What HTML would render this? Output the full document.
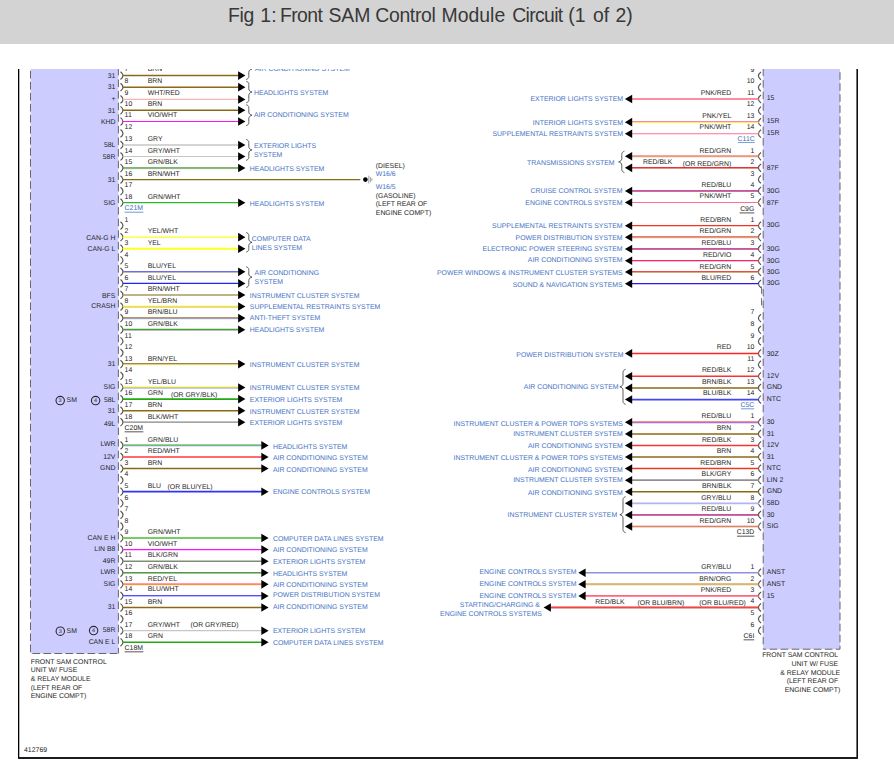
<!DOCTYPE html>
<html><head><meta charset="utf-8"><title>Fig 1: Front SAM Control Module Circuit (1 of 2)</title>
<style>
html,body{margin:0;padding:0;background:#fff;}
body{width:894px;height:775px;overflow:hidden;position:relative;font-family:"Liberation Sans",sans-serif;}
#hdr{position:absolute;left:0;top:0;width:894px;height:44px;background:#d3d3d3;}
#ttl{position:absolute;left:0;top:4.3px;font-size:19.4px;line-height:22px;color:#383838;white-space:nowrap;}
#ttl span{position:absolute;top:0;width:80px;text-align:center;}
svg{position:absolute;left:0;top:0;}
svg text{font-family:"Liberation Sans",sans-serif;text-rendering:geometricPrecision;}
</style></head><body>
<div id="hdr"></div><div id="ttl"><span style="left:201.05px;letter-spacing:-0.3px">Fig</span><span style="left:228.45px;letter-spacing:0px">1:</span><span style="left:261.17px;letter-spacing:-0.55px">Front</span><span style="left:309.45px;letter-spacing:0px">SAM</span><span style="left:365.38px;letter-spacing:-0.35px">Control</span><span style="left:433.40px;letter-spacing:0px">Module</span><span style="left:497.43px;letter-spacing:-0.65px">Circuit</span><span style="left:536.90px;letter-spacing:0px">(1</span><span style="left:561.00px;letter-spacing:0px">of</span><span style="left:584.00px;letter-spacing:0px">2)</span></div>
<svg width="894" height="775" viewBox="0 0 894 775">
<defs><clipPath id="cp"><rect x="0" y="69.0" width="894" height="706.0"/></clipPath></defs>
<g clip-path="url(#cp)">
<line x1="18.65" y1="67.00" x2="18.65" y2="758.85" stroke="#000" stroke-width="1.3"/>
<line x1="857.20" y1="67.00" x2="857.20" y2="758.85" stroke="#111" stroke-width="1.6"/>
<line x1="18.25" y1="757.95" x2="857.80" y2="757.95" stroke="#1c1c1c" stroke-width="1.9"/>
<rect x="30.5" y="64.0" width="87.90" height="589.50" fill="#ccccff"/>
<rect x="763.2" y="64.0" width="76.80" height="585.20" fill="#ccccff"/>
<path d="M30.5,62.5 L30.5,653.5 L118.4,653.5" fill="none" stroke="#606060" stroke-width="0.95" stroke-dasharray="7.6 3.43" stroke-dashoffset="2.68"/>
<path d="M118.4,62.5 L118.4,653.5" fill="none" stroke="#606060" stroke-width="0.95" stroke-dasharray="7.5 4.1" stroke-dashoffset="6.2"/>
<path d="M840.0,62.5 L840.0,649.2 L763.2,649.2" fill="none" stroke="#606060" stroke-width="0.95" stroke-dasharray="7.6 3.43" stroke-dashoffset="1.33"/>
<path d="M763.2,62.5 L763.2,649.2" fill="none" stroke="#606060" stroke-width="0.95" stroke-dasharray="7.5 4.1" stroke-dashoffset="5.6"/>
<path d="M120.50,71.70 Q125.50,75.60 120.50,79.50" fill="none" stroke="#555" stroke-width="1.2"/>
<text x="124.60" y="71.30" font-size="6.88" fill="#262626" text-anchor="start">7</text>
<text x="147.70" y="71.30" font-size="6.88" fill="#262626" text-anchor="start">BRN</text>
<text x="115.40" y="77.80" font-size="6.88" fill="#262626" text-anchor="end">31</text>
<line x1="122.80" y1="75.60" x2="238.70" y2="75.60" stroke="#8b6914" stroke-width="1.5"/>
<path d="M238.10,71.30 L245.40,75.60 L238.10,79.90 Z" fill="#000"/>
<path d="M120.50,83.25 Q125.50,87.16 120.50,91.06" fill="none" stroke="#555" stroke-width="1.2"/>
<text x="124.60" y="82.86" font-size="6.88" fill="#262626" text-anchor="start">8</text>
<text x="147.70" y="82.86" font-size="6.88" fill="#262626" text-anchor="start">BRN</text>
<text x="115.40" y="89.36" font-size="6.88" fill="#262626" text-anchor="end">31</text>
<line x1="122.80" y1="87.16" x2="238.70" y2="87.16" stroke="#8b6914" stroke-width="1.5"/>
<path d="M238.10,82.86 L245.40,87.16 L238.10,91.45 Z" fill="#000"/>
<path d="M120.50,95.50 Q125.50,99.40 120.50,103.30" fill="none" stroke="#555" stroke-width="1.2"/>
<text x="124.60" y="95.30" font-size="6.88" fill="#262626" text-anchor="start">9</text>
<text x="147.70" y="95.30" font-size="6.88" fill="#262626" text-anchor="start">WHT/RED</text>
<text x="115.40" y="100.50" font-size="6.88" fill="#262626" text-anchor="end">+</text>
<line x1="122.80" y1="99.40" x2="238.70" y2="99.40" stroke="#ffb0b0" stroke-width="1.3"/>
<path d="M238.10,95.10 L245.40,99.40 L238.10,103.70 Z" fill="#000"/>
<path d="M120.50,106.36 Q125.50,110.26 120.50,114.16" fill="none" stroke="#555" stroke-width="1.2"/>
<text x="124.60" y="105.96" font-size="6.88" fill="#262626" text-anchor="start">10</text>
<text x="147.70" y="105.96" font-size="6.88" fill="#262626" text-anchor="start">BRN</text>
<text x="115.40" y="113.46" font-size="6.88" fill="#262626" text-anchor="end">31</text>
<line x1="122.80" y1="110.26" x2="238.70" y2="110.26" stroke="#8b6914" stroke-width="1.5"/>
<path d="M238.10,105.96 L245.40,110.26 L238.10,114.56 Z" fill="#000"/>
<path d="M120.50,117.60 Q125.50,121.50 120.50,125.40" fill="none" stroke="#555" stroke-width="1.2"/>
<text x="124.60" y="117.20" font-size="6.88" fill="#262626" text-anchor="start">11</text>
<text x="147.70" y="117.20" font-size="6.88" fill="#262626" text-anchor="start">VIO/WHT</text>
<text x="115.40" y="123.70" font-size="6.88" fill="#262626" text-anchor="end">KHD</text>
<line x1="122.80" y1="121.50" x2="238.70" y2="121.50" stroke="#ff10ff" stroke-width="1.1"/>
<path d="M238.10,117.20 L245.40,121.50 L238.10,125.80 Z" fill="#000"/>
<path d="M120.50,129.47 Q125.50,133.38 120.50,137.28" fill="none" stroke="#555" stroke-width="1.2"/>
<text x="124.60" y="129.07" font-size="6.88" fill="#262626" text-anchor="start">12</text>
<path d="M120.50,141.03 Q125.50,144.93 120.50,148.83" fill="none" stroke="#555" stroke-width="1.2"/>
<text x="124.60" y="140.63" font-size="6.88" fill="#262626" text-anchor="start">13</text>
<text x="147.70" y="140.63" font-size="6.88" fill="#262626" text-anchor="start">GRY</text>
<text x="115.40" y="147.13" font-size="6.88" fill="#262626" text-anchor="end">58L</text>
<line x1="122.80" y1="144.93" x2="238.70" y2="144.93" stroke="#c6c6c6" stroke-width="1.5"/>
<path d="M238.10,140.63 L245.40,144.93 L238.10,149.23 Z" fill="#000"/>
<path d="M120.50,152.58 Q125.50,156.48 120.50,160.38" fill="none" stroke="#555" stroke-width="1.2"/>
<text x="124.60" y="152.88" font-size="6.88" fill="#262626" text-anchor="start">14</text>
<text x="147.70" y="152.88" font-size="6.88" fill="#262626" text-anchor="start">GRY/WHT</text>
<text x="115.40" y="158.68" font-size="6.88" fill="#262626" text-anchor="end">58R</text>
<line x1="122.80" y1="156.48" x2="238.70" y2="156.48" stroke="#c6c6c6" stroke-width="1.15"/>
<path d="M238.10,152.18 L245.40,156.48 L238.10,160.78 Z" fill="#000"/>
<path d="M120.50,164.14 Q125.50,168.04 120.50,171.94" fill="none" stroke="#555" stroke-width="1.2"/>
<text x="124.60" y="163.74" font-size="6.88" fill="#262626" text-anchor="start">15</text>
<text x="147.70" y="163.74" font-size="6.88" fill="#262626" text-anchor="start">GRN/BLK</text>
<line x1="122.80" y1="167.74" x2="238.70" y2="167.74" stroke="#44a833" stroke-width="1.2"/>
<line x1="122.80" y1="168.64" x2="238.70" y2="168.64" stroke="#6a7a5a" stroke-width="0.6"/>
<path d="M238.10,163.74 L245.40,168.04 L238.10,172.34 Z" fill="#000"/>
<path d="M120.50,175.69 Q125.50,179.59 120.50,183.50" fill="none" stroke="#555" stroke-width="1.2"/>
<text x="124.60" y="175.99" font-size="6.88" fill="#262626" text-anchor="start">16</text>
<text x="147.70" y="175.99" font-size="6.88" fill="#262626" text-anchor="start">BRN/WHT</text>
<text x="115.40" y="181.79" font-size="6.88" fill="#262626" text-anchor="end">31</text>
<path d="M120.50,187.25 Q125.50,191.15 120.50,195.05" fill="none" stroke="#555" stroke-width="1.2"/>
<text x="124.60" y="186.85" font-size="6.88" fill="#262626" text-anchor="start">17</text>
<path d="M120.50,198.80 Q125.50,202.70 120.50,206.60" fill="none" stroke="#555" stroke-width="1.2"/>
<text x="124.60" y="199.10" font-size="6.88" fill="#262626" text-anchor="start">18</text>
<text x="147.70" y="199.10" font-size="6.88" fill="#262626" text-anchor="start">GRN/WHT</text>
<text x="115.40" y="204.90" font-size="6.88" fill="#262626" text-anchor="end">SIG</text>
<line x1="122.80" y1="202.70" x2="238.70" y2="202.70" stroke="#2db52d" stroke-width="1.3"/>
<path d="M238.10,198.40 L245.40,202.70 L238.10,207.00 Z" fill="#000"/>
<line x1="122.80" y1="179.59" x2="360.30" y2="179.59" stroke="#8b6914" stroke-width="1.2"/>
<circle cx="365.4" cy="179.59" r="2.3" fill="#000"/>
<line x1="368.80" y1="175.69" x2="368.80" y2="183.50" stroke="#999" stroke-width="0.9"/>
<line x1="370.40" y1="177.00" x2="370.40" y2="182.19" stroke="#999" stroke-width="0.9"/>
<line x1="371.90" y1="178.29" x2="371.90" y2="180.90" stroke="#999" stroke-width="0.9"/>
<text x="375.80" y="167.90" font-size="6.88" fill="#262626" text-anchor="start">(DIESEL)</text>
<text x="375.80" y="175.80" font-size="6.88" fill="#4472c4" text-anchor="start">W16/6</text>
<text x="375.80" y="188.90" font-size="6.88" fill="#4472c4" text-anchor="start">W16/5</text>
<text x="375.80" y="197.50" font-size="6.88" fill="#262626" text-anchor="start">(GASOLINE)</text>
<text x="375.80" y="206.00" font-size="6.88" fill="#262626" text-anchor="start">(LEFT REAR OF</text>
<text x="375.80" y="214.70" font-size="6.88" fill="#262626" text-anchor="start">ENGINE COMPT)</text>
<path d="M246.20,58.54 C249.20,59.54 248.80,61.54 248.80,63.04 L248.80,65.82 C248.80,67.52 250.20,68.62 252.00,69.02 C250.20,69.42 248.80,70.52 248.80,72.22 L248.80,75.00 C248.80,76.50 249.20,78.50 246.20,79.50" fill="none" stroke="#333" stroke-width="0.8"/>
<text x="255.00" y="70.92" font-size="6.92" fill="#4472c4" text-anchor="start">AIR CONDITIONING SYSTEM</text>
<path d="M246.20,81.20 C249.20,82.20 248.80,84.20 248.80,85.70 L248.80,88.85 C248.80,90.55 250.20,91.65 252.00,92.05 C250.20,92.45 248.80,93.55 248.80,95.25 L248.80,98.40 C248.80,99.90 249.20,101.90 246.20,102.90" fill="none" stroke="#333" stroke-width="0.8"/>
<text x="253.90" y="95.08" font-size="6.92" fill="#4472c4" text-anchor="start">HEADLIGHTS SYSTEM</text>
<path d="M246.20,104.71 C249.20,105.71 248.80,107.71 248.80,109.21 L248.80,112.01 C248.80,113.71 250.20,114.81 252.00,115.21 C250.20,115.61 248.80,116.71 248.80,118.41 L248.80,121.20 C248.80,122.70 249.20,124.70 246.20,125.70" fill="none" stroke="#333" stroke-width="0.8"/>
<text x="253.90" y="117.28" font-size="6.92" fill="#4472c4" text-anchor="start">AIR CONDITIONING SYSTEM</text>
<path d="M246.20,139.43 C249.20,140.43 248.80,142.43 248.80,143.93 L248.80,146.71 C248.80,148.41 250.20,149.51 252.00,149.91 C250.20,150.31 248.80,151.41 248.80,153.11 L248.80,155.88 C248.80,157.38 249.20,159.38 246.20,160.38" fill="none" stroke="#333" stroke-width="0.8"/>
<text x="253.90" y="148.30" font-size="6.92" fill="#4472c4" text-anchor="start">EXTERIOR LIGHTS</text>
<text x="253.90" y="157.40" font-size="6.92" fill="#4472c4" text-anchor="start">SYSTEM</text>
<text x="249.80" y="171.44" font-size="6.92" fill="#4472c4" text-anchor="start">HEADLIGHTS SYSTEM</text>
<text x="249.80" y="205.70" font-size="6.92" fill="#4472c4" text-anchor="start">HEADLIGHTS SYSTEM</text>
<text x="124.60" y="210.30" font-size="6.88" fill="#3d6fb6" text-anchor="start">C21M</text>
<line x1="124.60" y1="212.20" x2="143.40" y2="212.20" stroke="#7fa3d6" stroke-width="1.1"/>
<path d="M120.50,221.70 Q125.50,225.60 120.50,229.50" fill="none" stroke="#555" stroke-width="1.2"/>
<text x="124.60" y="222.30" font-size="6.88" fill="#262626" text-anchor="start">1</text>
<path d="M120.50,233.26 Q125.50,237.16 120.50,241.06" fill="none" stroke="#555" stroke-width="1.2"/>
<text x="124.60" y="232.86" font-size="6.88" fill="#262626" text-anchor="start">2</text>
<text x="147.70" y="232.86" font-size="6.88" fill="#262626" text-anchor="start">YEL/WHT</text>
<text x="115.40" y="240.16" font-size="6.88" fill="#262626" text-anchor="end">CAN-G H</text>
<line x1="122.80" y1="237.16" x2="238.70" y2="237.16" stroke="#ffff40" stroke-width="1.5"/>
<path d="M238.10,232.86 L245.40,237.16 L238.10,241.47 Z" fill="#000"/>
<path d="M120.50,244.83 Q125.50,248.73 120.50,252.63" fill="none" stroke="#555" stroke-width="1.2"/>
<text x="124.60" y="245.23" font-size="6.88" fill="#262626" text-anchor="start">3</text>
<text x="147.70" y="245.23" font-size="6.88" fill="#262626" text-anchor="start">YEL</text>
<text x="115.40" y="250.93" font-size="6.88" fill="#262626" text-anchor="end">CAN-G L</text>
<line x1="122.80" y1="248.73" x2="238.70" y2="248.73" stroke="#ffff20" stroke-width="1.9"/>
<path d="M238.10,244.43 L245.40,248.73 L238.10,253.03 Z" fill="#000"/>
<path d="M120.50,256.40 Q125.50,260.30 120.50,264.19" fill="none" stroke="#555" stroke-width="1.2"/>
<text x="124.60" y="256.80" font-size="6.88" fill="#262626" text-anchor="start">4</text>
<path d="M120.50,267.96 Q125.50,271.86 120.50,275.76" fill="none" stroke="#555" stroke-width="1.2"/>
<text x="124.60" y="267.56" font-size="6.88" fill="#262626" text-anchor="start">5</text>
<text x="147.70" y="267.56" font-size="6.88" fill="#262626" text-anchor="start">BLU/YEL</text>
<line x1="122.80" y1="271.56" x2="238.70" y2="271.56" stroke="#6a6aff" stroke-width="1.2"/>
<line x1="122.80" y1="272.46" x2="238.70" y2="272.46" stroke="#b0a070" stroke-width="0.6"/>
<path d="M238.10,267.56 L245.40,271.86 L238.10,276.16 Z" fill="#000"/>
<path d="M120.50,279.53 Q125.50,283.43 120.50,287.32" fill="none" stroke="#555" stroke-width="1.2"/>
<text x="124.60" y="279.93" font-size="6.88" fill="#262626" text-anchor="start">6</text>
<text x="147.70" y="279.93" font-size="6.88" fill="#262626" text-anchor="start">BLU/YEL</text>
<line x1="122.80" y1="283.43" x2="238.70" y2="283.43" stroke="#2222ff" stroke-width="1.3"/>
<path d="M238.10,279.12 L245.40,283.43 L238.10,287.73 Z" fill="#000"/>
<path d="M120.50,291.09 Q125.50,294.99 120.50,298.89" fill="none" stroke="#555" stroke-width="1.2"/>
<text x="124.60" y="290.69" font-size="6.88" fill="#262626" text-anchor="start">7</text>
<text x="147.70" y="290.69" font-size="6.88" fill="#262626" text-anchor="start">BRN/WHT</text>
<text x="115.40" y="297.99" font-size="6.88" fill="#262626" text-anchor="end">BFS</text>
<line x1="122.80" y1="294.99" x2="238.70" y2="294.99" stroke="#a8985e" stroke-width="1.6"/>
<path d="M238.10,290.69 L245.40,294.99 L238.10,299.29 Z" fill="#000"/>
<path d="M120.50,302.66 Q125.50,306.56 120.50,310.45" fill="none" stroke="#555" stroke-width="1.2"/>
<text x="124.60" y="302.86" font-size="6.88" fill="#262626" text-anchor="start">8</text>
<text x="147.70" y="302.86" font-size="6.88" fill="#262626" text-anchor="start">YEL/BRN</text>
<text x="115.40" y="307.95" font-size="6.88" fill="#262626" text-anchor="end">CRASH</text>
<line x1="122.80" y1="306.31" x2="238.70" y2="306.31" stroke="#fcf418" stroke-width="1.35"/>
<line x1="122.80" y1="307.23" x2="238.70" y2="307.23" stroke="#a89038" stroke-width="0.5"/>
<path d="M238.10,302.25 L245.40,306.56 L238.10,310.86 Z" fill="#000"/>
<path d="M120.50,314.22 Q125.50,318.12 120.50,322.02" fill="none" stroke="#555" stroke-width="1.2"/>
<text x="124.60" y="313.82" font-size="6.88" fill="#262626" text-anchor="start">9</text>
<text x="147.70" y="313.82" font-size="6.88" fill="#262626" text-anchor="start">BRN/BLU</text>
<line x1="122.80" y1="317.80" x2="238.70" y2="317.80" stroke="#987a38" stroke-width="1.15"/>
<line x1="122.80" y1="318.69" x2="238.70" y2="318.69" stroke="#7c7cd4" stroke-width="0.65"/>
<path d="M238.10,313.82 L245.40,318.12 L238.10,322.42 Z" fill="#000"/>
<path d="M120.50,325.79 Q125.50,329.69 120.50,333.58" fill="none" stroke="#555" stroke-width="1.2"/>
<text x="124.60" y="326.19" font-size="6.88" fill="#262626" text-anchor="start">10</text>
<text x="147.70" y="326.19" font-size="6.88" fill="#262626" text-anchor="start">GRN/BLK</text>
<line x1="122.80" y1="329.39" x2="238.70" y2="329.39" stroke="#44a833" stroke-width="1.2"/>
<line x1="122.80" y1="330.29" x2="238.70" y2="330.29" stroke="#6a7a5a" stroke-width="0.6"/>
<path d="M238.10,325.38 L245.40,329.69 L238.10,333.99 Z" fill="#000"/>
<path d="M120.50,337.35 Q125.50,341.25 120.50,345.15" fill="none" stroke="#555" stroke-width="1.2"/>
<text x="124.60" y="337.95" font-size="6.88" fill="#262626" text-anchor="start">11</text>
<path d="M120.50,348.92 Q125.50,352.81 120.50,356.71" fill="none" stroke="#555" stroke-width="1.2"/>
<text x="124.60" y="348.51" font-size="6.88" fill="#262626" text-anchor="start">12</text>
<path d="M120.50,360.20 Q125.50,364.10 120.50,368.00" fill="none" stroke="#555" stroke-width="1.2"/>
<text x="124.60" y="360.80" font-size="6.88" fill="#262626" text-anchor="start">13</text>
<text x="147.70" y="360.80" font-size="6.88" fill="#262626" text-anchor="start">BRN/YEL</text>
<text x="115.40" y="366.30" font-size="6.88" fill="#262626" text-anchor="end">31</text>
<line x1="122.80" y1="363.78" x2="238.70" y2="363.78" stroke="#7a5a0c" stroke-width="1.15"/>
<line x1="122.80" y1="364.68" x2="238.70" y2="364.68" stroke="#e6d62c" stroke-width="0.65"/>
<path d="M238.10,359.80 L245.40,364.10 L238.10,368.40 Z" fill="#000"/>
<path d="M120.50,372.05 Q125.50,375.94 120.50,379.84" fill="none" stroke="#555" stroke-width="1.2"/>
<text x="124.60" y="371.64" font-size="6.88" fill="#262626" text-anchor="start">14</text>
<path d="M120.50,383.61 Q125.50,387.51 120.50,391.41" fill="none" stroke="#555" stroke-width="1.2"/>
<text x="124.60" y="384.01" font-size="6.88" fill="#262626" text-anchor="start">15</text>
<text x="147.70" y="384.01" font-size="6.88" fill="#262626" text-anchor="start">YEL/BLU</text>
<text x="115.40" y="388.51" font-size="6.88" fill="#262626" text-anchor="end">SIG</text>
<line x1="122.80" y1="387.16" x2="238.70" y2="387.16" stroke="#fff20c" stroke-width="1.15"/>
<line x1="122.80" y1="388.08" x2="238.70" y2="388.08" stroke="#6474f0" stroke-width="0.7"/>
<path d="M238.10,383.21 L245.40,387.51 L238.10,391.81 Z" fill="#000"/>
<path d="M120.50,395.18 Q125.50,399.07 120.50,402.97" fill="none" stroke="#555" stroke-width="1.2"/>
<text x="124.60" y="394.77" font-size="6.88" fill="#262626" text-anchor="start">16</text>
<text x="147.70" y="394.77" font-size="6.88" fill="#262626" text-anchor="start">GRN</text>
<text x="115.40" y="402.07" font-size="6.88" fill="#262626" text-anchor="end">58L</text>
<line x1="122.80" y1="399.07" x2="238.70" y2="399.07" stroke="#22aa11" stroke-width="1.7"/>
<path d="M238.10,394.77 L245.40,399.07 L238.10,403.38 Z" fill="#000"/>
<path d="M120.50,406.74 Q125.50,410.64 120.50,414.54" fill="none" stroke="#555" stroke-width="1.2"/>
<text x="124.60" y="407.14" font-size="6.88" fill="#262626" text-anchor="start">17</text>
<text x="147.70" y="407.14" font-size="6.88" fill="#262626" text-anchor="start">BRN</text>
<text x="115.40" y="412.84" font-size="6.88" fill="#262626" text-anchor="end">31</text>
<line x1="122.80" y1="410.64" x2="238.70" y2="410.64" stroke="#8b6914" stroke-width="1.5"/>
<path d="M238.10,406.34 L245.40,410.64 L238.10,414.94 Z" fill="#000"/>
<path d="M120.50,418.31 Q125.50,422.20 120.50,426.10" fill="none" stroke="#555" stroke-width="1.2"/>
<text x="124.60" y="418.70" font-size="6.88" fill="#262626" text-anchor="start">18</text>
<text x="147.70" y="418.70" font-size="6.88" fill="#262626" text-anchor="start">BLK/WHT</text>
<text x="115.40" y="425.80" font-size="6.88" fill="#262626" text-anchor="end">49L</text>
<line x1="122.80" y1="422.20" x2="238.70" y2="422.20" stroke="#868686" stroke-width="1.2"/>
<path d="M238.10,417.90 L245.40,422.20 L238.10,426.50 Z" fill="#000"/>
<text x="170.90" y="397.07" font-size="6.88" fill="#262626" text-anchor="start">(OR GRY/BLK)</text>
<path d="M246.20,232.47 C249.20,233.47 248.80,235.47 248.80,236.97 L248.80,239.10 C248.80,240.80 250.20,241.90 252.00,242.30 C250.20,242.70 248.80,243.80 248.80,245.50 L248.80,247.63 C248.80,249.13 249.20,251.13 246.20,252.13" fill="none" stroke="#333" stroke-width="0.8"/>
<text x="251.80" y="241.00" font-size="6.92" fill="#4472c4" text-anchor="start">COMPUTER DATA</text>
<text x="251.80" y="250.10" font-size="6.92" fill="#4472c4" text-anchor="start">LINES SYSTEM</text>
<path d="M246.20,266.76 C249.20,267.76 248.80,269.76 248.80,271.26 L248.80,273.94 C248.80,275.64 250.20,276.74 252.00,277.14 C250.20,277.54 248.80,278.64 248.80,280.34 L248.80,283.03 C248.80,284.53 249.20,286.53 246.20,287.53" fill="none" stroke="#333" stroke-width="0.8"/>
<text x="254.60" y="274.80" font-size="6.92" fill="#4472c4" text-anchor="start">AIR CONDITIONING</text>
<text x="254.60" y="284.00" font-size="6.92" fill="#4472c4" text-anchor="start">SYSTEM</text>
<text x="249.80" y="297.99" font-size="6.92" fill="#4472c4" text-anchor="start">INSTRUMENT CLUSTER SYSTEM</text>
<text x="249.80" y="308.95" font-size="6.92" fill="#4472c4" text-anchor="start">SUPPLEMENTAL RESTRAINTS SYSTEM</text>
<text x="249.80" y="319.92" font-size="6.92" fill="#4472c4" text-anchor="start">ANTI-THEFT SYSTEM</text>
<text x="249.80" y="331.69" font-size="6.92" fill="#4472c4" text-anchor="start">HEADLIGHTS SYSTEM</text>
<text x="249.80" y="366.50" font-size="6.92" fill="#4472c4" text-anchor="start">INSTRUMENT CLUSTER SYSTEM</text>
<text x="249.80" y="389.91" font-size="6.92" fill="#4472c4" text-anchor="start">INSTRUMENT CLUSTER SYSTEM</text>
<text x="249.80" y="402.47" font-size="6.92" fill="#4472c4" text-anchor="start">EXTERIOR LIGHTS SYSTEM</text>
<text x="249.80" y="413.54" font-size="6.92" fill="#4472c4" text-anchor="start">INSTRUMENT CLUSTER SYSTEM</text>
<text x="249.80" y="424.60" font-size="6.92" fill="#4472c4" text-anchor="start">EXTERIOR LIGHTS SYSTEM</text>
<text x="124.60" y="430.20" font-size="6.88" fill="#262626" text-anchor="start">C20M</text>
<line x1="124.60" y1="431.80" x2="143.40" y2="431.80" stroke="#666" stroke-width="1.1"/>
<circle cx="60.2" cy="400.6" r="4.2" fill="none" stroke="#2a2a3a" stroke-width="1.1"/>
<text x="60.10" y="402.10" font-size="5.5" fill="#262626" text-anchor="middle">3</text>
<text x="66.60" y="401.90" font-size="6.88" fill="#262626" text-anchor="start">SM</text>
<circle cx="95.6" cy="400.6" r="4.2" fill="none" stroke="#2a2a3a" stroke-width="1.1"/>
<text x="95.50" y="402.10" font-size="5.5" fill="#262626" text-anchor="middle">4</text>
<path d="M120.50,441.50 Q125.50,445.40 120.50,449.30" fill="none" stroke="#555" stroke-width="1.2"/>
<text x="124.60" y="441.90" font-size="6.88" fill="#262626" text-anchor="start">1</text>
<text x="147.70" y="441.90" font-size="6.88" fill="#262626" text-anchor="start">GRN/BLU</text>
<text x="115.40" y="446.20" font-size="6.88" fill="#262626" text-anchor="end">LWR</text>
<line x1="122.80" y1="445.10" x2="261.90" y2="445.10" stroke="#33aa22" stroke-width="1.2"/>
<line x1="122.80" y1="446.00" x2="261.90" y2="446.00" stroke="#9a9aff" stroke-width="0.6"/>
<path d="M261.30,441.10 L268.60,445.40 L261.30,449.70 Z" fill="#000"/>
<path d="M120.50,453.08 Q125.50,456.98 120.50,460.88" fill="none" stroke="#555" stroke-width="1.2"/>
<text x="124.60" y="452.68" font-size="6.88" fill="#262626" text-anchor="start">2</text>
<text x="147.70" y="452.68" font-size="6.88" fill="#262626" text-anchor="start">RED/WHT</text>
<text x="115.40" y="459.18" font-size="6.88" fill="#262626" text-anchor="end">12V</text>
<line x1="122.80" y1="456.98" x2="261.90" y2="456.98" stroke="#ff6a6a" stroke-width="1.9"/>
<path d="M261.30,452.68 L268.60,456.98 L261.30,461.28 Z" fill="#000"/>
<path d="M120.50,464.66 Q125.50,468.56 120.50,472.46" fill="none" stroke="#555" stroke-width="1.2"/>
<text x="124.60" y="465.26" font-size="6.88" fill="#262626" text-anchor="start">3</text>
<text x="147.70" y="465.26" font-size="6.88" fill="#262626" text-anchor="start">BRN</text>
<text x="115.40" y="469.76" font-size="6.88" fill="#262626" text-anchor="end">GND</text>
<line x1="122.80" y1="468.56" x2="261.90" y2="468.56" stroke="#8b6914" stroke-width="1.5"/>
<path d="M261.30,464.26 L268.60,468.56 L261.30,472.86 Z" fill="#000"/>
<path d="M120.50,476.24 Q125.50,480.14 120.50,484.04" fill="none" stroke="#555" stroke-width="1.2"/>
<text x="124.60" y="475.84" font-size="6.88" fill="#262626" text-anchor="start">4</text>
<path d="M120.50,487.82 Q125.50,491.72 120.50,495.62" fill="none" stroke="#555" stroke-width="1.2"/>
<text x="124.60" y="488.42" font-size="6.88" fill="#262626" text-anchor="start">5</text>
<text x="147.70" y="488.42" font-size="6.88" fill="#262626" text-anchor="start">BLU</text>
<line x1="122.80" y1="491.72" x2="261.90" y2="491.72" stroke="#3030ff" stroke-width="1.8"/>
<path d="M261.30,487.42 L268.60,491.72 L261.30,496.02 Z" fill="#000"/>
<path d="M120.50,499.40 Q125.50,503.30 120.50,507.20" fill="none" stroke="#555" stroke-width="1.2"/>
<text x="124.60" y="500.00" font-size="6.88" fill="#262626" text-anchor="start">6</text>
<path d="M120.50,510.98 Q125.50,514.88 120.50,518.78" fill="none" stroke="#555" stroke-width="1.2"/>
<text x="124.60" y="510.58" font-size="6.88" fill="#262626" text-anchor="start">7</text>
<path d="M120.50,522.56 Q125.50,526.46 120.50,530.36" fill="none" stroke="#555" stroke-width="1.2"/>
<text x="124.60" y="522.96" font-size="6.88" fill="#262626" text-anchor="start">8</text>
<path d="M120.50,534.14 Q125.50,538.04 120.50,541.94" fill="none" stroke="#555" stroke-width="1.2"/>
<text x="124.60" y="533.74" font-size="6.88" fill="#262626" text-anchor="start">9</text>
<text x="147.70" y="533.74" font-size="6.88" fill="#262626" text-anchor="start">GRN/WHT</text>
<text x="115.40" y="540.24" font-size="6.88" fill="#262626" text-anchor="end">CAN E H</text>
<line x1="122.80" y1="538.04" x2="261.90" y2="538.04" stroke="#77cc66" stroke-width="1.9"/>
<path d="M261.30,533.74 L268.60,538.04 L261.30,542.34 Z" fill="#000"/>
<path d="M120.50,545.72 Q125.50,549.62 120.50,553.52" fill="none" stroke="#555" stroke-width="1.2"/>
<text x="124.60" y="546.12" font-size="6.88" fill="#262626" text-anchor="start">10</text>
<text x="147.70" y="546.12" font-size="6.88" fill="#262626" text-anchor="start">VIO/WHT</text>
<text x="115.40" y="550.82" font-size="6.88" fill="#262626" text-anchor="end">LIN B8</text>
<line x1="122.80" y1="549.62" x2="261.90" y2="549.62" stroke="#ff10ff" stroke-width="1.1"/>
<path d="M261.30,545.32 L268.60,549.62 L261.30,553.92 Z" fill="#000"/>
<path d="M120.50,557.30 Q125.50,561.20 120.50,565.10" fill="none" stroke="#555" stroke-width="1.2"/>
<text x="124.60" y="556.90" font-size="6.88" fill="#262626" text-anchor="start">11</text>
<text x="147.70" y="556.90" font-size="6.88" fill="#262626" text-anchor="start">BLK/GRN</text>
<text x="115.40" y="563.40" font-size="6.88" fill="#262626" text-anchor="end">49R</text>
<line x1="122.80" y1="561.20" x2="261.90" y2="561.20" stroke="#7f8c78" stroke-width="1.6"/>
<path d="M261.30,556.90 L268.60,561.20 L261.30,565.50 Z" fill="#000"/>
<path d="M120.50,568.88 Q125.50,572.78 120.50,576.68" fill="none" stroke="#555" stroke-width="1.2"/>
<text x="124.60" y="569.48" font-size="6.88" fill="#262626" text-anchor="start">12</text>
<text x="147.70" y="569.48" font-size="6.88" fill="#262626" text-anchor="start">GRN/BLK</text>
<text x="115.40" y="573.78" font-size="6.88" fill="#262626" text-anchor="end">LWR</text>
<line x1="122.80" y1="572.48" x2="261.90" y2="572.48" stroke="#44a833" stroke-width="1.2"/>
<line x1="122.80" y1="573.38" x2="261.90" y2="573.38" stroke="#6a7a5a" stroke-width="0.6"/>
<path d="M261.30,568.48 L268.60,572.78 L261.30,577.08 Z" fill="#000"/>
<path d="M120.50,580.46 Q125.50,584.36 120.50,588.26" fill="none" stroke="#555" stroke-width="1.2"/>
<text x="124.60" y="580.86" font-size="6.88" fill="#262626" text-anchor="start">13</text>
<text x="147.70" y="580.86" font-size="6.88" fill="#262626" text-anchor="start">RED/YEL</text>
<text x="115.40" y="585.76" font-size="6.88" fill="#262626" text-anchor="end">SIG</text>
<line x1="122.80" y1="584.06" x2="261.90" y2="584.06" stroke="#ff4433" stroke-width="1.2"/>
<line x1="122.80" y1="584.96" x2="261.90" y2="584.96" stroke="#f0c040" stroke-width="0.6"/>
<path d="M261.30,580.06 L268.60,584.36 L261.30,588.66 Z" fill="#000"/>
<path d="M120.50,592.04 Q125.50,595.94 120.50,599.84" fill="none" stroke="#555" stroke-width="1.2"/>
<text x="124.60" y="590.84" font-size="6.88" fill="#262626" text-anchor="start">14</text>
<text x="147.70" y="590.84" font-size="6.88" fill="#262626" text-anchor="start">BLU/WHT</text>
<line x1="122.80" y1="595.64" x2="261.90" y2="595.64" stroke="#5050ff" stroke-width="1.2"/>
<line x1="122.80" y1="596.54" x2="261.90" y2="596.54" stroke="#b0b0ff" stroke-width="0.6"/>
<path d="M261.30,591.64 L268.60,595.94 L261.30,600.24 Z" fill="#000"/>
<path d="M120.50,603.62 Q125.50,607.52 120.50,611.42" fill="none" stroke="#555" stroke-width="1.2"/>
<text x="124.60" y="604.22" font-size="6.88" fill="#262626" text-anchor="start">15</text>
<text x="147.70" y="604.22" font-size="6.88" fill="#262626" text-anchor="start">BRN</text>
<text x="115.40" y="608.72" font-size="6.88" fill="#262626" text-anchor="end">31</text>
<line x1="122.80" y1="607.52" x2="261.90" y2="607.52" stroke="#8b6914" stroke-width="1.5"/>
<path d="M261.30,603.22 L268.60,607.52 L261.30,611.82 Z" fill="#000"/>
<path d="M120.50,615.20 Q125.50,619.10 120.50,623.00" fill="none" stroke="#555" stroke-width="1.2"/>
<text x="124.60" y="614.80" font-size="6.88" fill="#262626" text-anchor="start">16</text>
<path d="M120.50,626.78 Q125.50,630.68 120.50,634.58" fill="none" stroke="#555" stroke-width="1.2"/>
<text x="124.60" y="626.98" font-size="6.88" fill="#262626" text-anchor="start">17</text>
<text x="147.70" y="626.98" font-size="6.88" fill="#262626" text-anchor="start">GRY/WHT</text>
<text x="115.40" y="631.88" font-size="6.88" fill="#262626" text-anchor="end">58R</text>
<line x1="122.80" y1="630.68" x2="261.90" y2="630.68" stroke="#c6c6c6" stroke-width="1.15"/>
<path d="M261.30,626.38 L268.60,630.68 L261.30,634.98 Z" fill="#000"/>
<path d="M120.50,638.36 Q125.50,642.26 120.50,646.16" fill="none" stroke="#555" stroke-width="1.2"/>
<text x="124.60" y="637.96" font-size="6.88" fill="#262626" text-anchor="start">18</text>
<text x="147.70" y="637.96" font-size="6.88" fill="#262626" text-anchor="start">GRN</text>
<text x="115.40" y="644.46" font-size="6.88" fill="#262626" text-anchor="end">CAN E L</text>
<line x1="122.80" y1="642.26" x2="261.90" y2="642.26" stroke="#22aa11" stroke-width="1.7"/>
<path d="M261.30,637.96 L268.60,642.26 L261.30,646.56 Z" fill="#000"/>
<text x="167.50" y="488.52" font-size="6.88" fill="#262626" text-anchor="start">(OR BLU/YEL)</text>
<text x="190.50" y="627.08" font-size="6.88" fill="#262626" text-anchor="start">(OR GRY/RED)</text>
<text x="272.90" y="448.90" font-size="6.92" fill="#4472c4" text-anchor="start">HEADLIGHTS SYSTEM</text>
<text x="272.90" y="459.68" font-size="6.92" fill="#4472c4" text-anchor="start">AIR CONDITIONING SYSTEM</text>
<text x="272.90" y="472.26" font-size="6.92" fill="#4472c4" text-anchor="start">AIR CONDITIONING SYSTEM</text>
<text x="272.90" y="494.42" font-size="6.92" fill="#4472c4" text-anchor="start">ENGINE CONTROLS SYSTEM</text>
<text x="272.90" y="540.74" font-size="6.92" fill="#4472c4" text-anchor="start">COMPUTER DATA LINES SYSTEM</text>
<text x="272.90" y="552.32" font-size="6.92" fill="#4472c4" text-anchor="start">AIR CONDITIONING SYSTEM</text>
<text x="272.90" y="563.90" font-size="6.92" fill="#4472c4" text-anchor="start">EXTERIOR LIGHTS SYSTEM</text>
<text x="272.90" y="576.48" font-size="6.92" fill="#4472c4" text-anchor="start">HEADLIGHTS SYSTEM</text>
<text x="272.90" y="587.06" font-size="6.92" fill="#4472c4" text-anchor="start">AIR CONDITIONING SYSTEM</text>
<text x="272.90" y="597.14" font-size="6.92" fill="#4472c4" text-anchor="start">POWER DISTRIBUTION SYSTEM</text>
<text x="272.90" y="609.22" font-size="6.92" fill="#4472c4" text-anchor="start">AIR CONDITIONING SYSTEM</text>
<text x="272.90" y="633.38" font-size="6.92" fill="#4472c4" text-anchor="start">EXTERIOR LIGHTS SYSTEM</text>
<text x="272.90" y="644.96" font-size="6.92" fill="#4472c4" text-anchor="start">COMPUTER DATA LINES SYSTEM</text>
<text x="124.60" y="650.20" font-size="6.88" fill="#262626" text-anchor="start">C18M</text>
<line x1="124.60" y1="651.80" x2="143.40" y2="651.80" stroke="#666" stroke-width="1.1"/>
<circle cx="60.3" cy="631.2" r="4.2" fill="none" stroke="#2a2a3a" stroke-width="1.1"/>
<text x="60.20" y="632.70" font-size="5.5" fill="#262626" text-anchor="middle">3</text>
<text x="66.60" y="632.50" font-size="6.88" fill="#262626" text-anchor="start">SM</text>
<circle cx="93.6" cy="630.6" r="4.2" fill="none" stroke="#2a2a3a" stroke-width="1.1"/>
<text x="93.50" y="632.10" font-size="5.5" fill="#262626" text-anchor="middle">4</text>
<text x="30.70" y="663.80" font-size="6.9" fill="#262626" text-anchor="start">FRONT SAM CONTROL</text>
<text x="30.70" y="672.42" font-size="6.9" fill="#262626" text-anchor="start">UNIT W/ FUSE</text>
<text x="30.70" y="681.04" font-size="6.9" fill="#262626" text-anchor="start">&amp; RELAY MODULE</text>
<text x="30.70" y="689.66" font-size="6.9" fill="#262626" text-anchor="start">(LEFT REAR OF</text>
<text x="30.70" y="698.28" font-size="6.9" fill="#262626" text-anchor="start">ENGINE COMPT)</text>
<text x="24.00" y="751.90" font-size="6.95" fill="#262626" text-anchor="start">412769</text>
<path d="M761.00,71.94 Q755.80,75.84 761.00,79.74" fill="none" stroke="#555" stroke-width="1.2"/>
<text x="754.30" y="71.54" font-size="6.88" fill="#262626" text-anchor="end">9</text>
<path d="M761.00,83.52 Q755.80,87.42 761.00,91.32" fill="none" stroke="#555" stroke-width="1.2"/>
<text x="754.30" y="83.12" font-size="6.88" fill="#262626" text-anchor="end">10</text>
<path d="M761.00,95.10 Q755.80,99.00 761.00,102.90" fill="none" stroke="#555" stroke-width="1.2"/>
<text x="754.30" y="94.70" font-size="6.88" fill="#262626" text-anchor="end">11</text>
<text x="731.30" y="94.70" font-size="6.88" fill="#262626" text-anchor="end">PNK/RED</text>
<text x="766.80" y="100.00" font-size="6.88" fill="#262626" text-anchor="start">15</text>
<line x1="631.60" y1="99.00" x2="758.90" y2="99.00" stroke="#ff6680" stroke-width="1.6"/>
<path d="M632.20,94.70 L624.90,99.00 L632.20,103.30 Z" fill="#000"/>
<path d="M761.00,106.68 Q755.80,110.58 761.00,114.48" fill="none" stroke="#555" stroke-width="1.2"/>
<text x="754.30" y="106.28" font-size="6.88" fill="#262626" text-anchor="end">12</text>
<path d="M761.00,118.26 Q755.80,122.16 761.00,126.06" fill="none" stroke="#555" stroke-width="1.2"/>
<text x="754.30" y="117.86" font-size="6.88" fill="#262626" text-anchor="end">13</text>
<text x="731.30" y="117.86" font-size="6.88" fill="#262626" text-anchor="end">PNK/YEL</text>
<text x="766.80" y="123.16" font-size="6.88" fill="#262626" text-anchor="start">15R</text>
<line x1="631.60" y1="121.73" x2="758.90" y2="121.73" stroke="#ff5c7c" stroke-width="0.95"/>
<line x1="631.60" y1="122.63" x2="758.90" y2="122.63" stroke="#fff040" stroke-width="0.85"/>
<path d="M632.20,117.86 L624.90,122.16 L632.20,126.46 Z" fill="#000"/>
<path d="M761.00,129.84 Q755.80,133.74 761.00,137.64" fill="none" stroke="#555" stroke-width="1.2"/>
<text x="754.30" y="129.44" font-size="6.88" fill="#262626" text-anchor="end">14</text>
<text x="731.30" y="129.44" font-size="6.88" fill="#262626" text-anchor="end">PNK/WHT</text>
<text x="766.80" y="134.94" font-size="6.88" fill="#262626" text-anchor="start">15R</text>
<line x1="631.60" y1="133.74" x2="758.90" y2="133.74" stroke="#ff7090" stroke-width="1.2"/>
<path d="M632.20,129.44 L624.90,133.74 L632.20,138.04 Z" fill="#000"/>
<text x="623.00" y="100.90" font-size="6.92" fill="#4472c4" text-anchor="end">EXTERIOR LIGHTS SYSTEM</text>
<text x="623.00" y="124.86" font-size="6.92" fill="#4472c4" text-anchor="end">INTERIOR LIGHTS SYSTEM</text>
<text x="623.00" y="136.14" font-size="6.92" fill="#4472c4" text-anchor="end">SUPPLEMENTAL RESTRAINTS SYSTEM</text>
<text x="754.70" y="141.00" font-size="6.88" fill="#3d6fb6" text-anchor="end">C11C</text>
<line x1="737.80" y1="142.50" x2="754.70" y2="142.50" stroke="#7fa3d6" stroke-width="1.1"/>
<path d="M761.00,152.40 Q755.80,156.30 761.00,160.20" fill="none" stroke="#555" stroke-width="1.2"/>
<text x="754.30" y="152.80" font-size="6.88" fill="#262626" text-anchor="end">1</text>
<text x="731.30" y="152.80" font-size="6.88" fill="#262626" text-anchor="end">RED/GRN</text>
<line x1="631.60" y1="156.00" x2="758.90" y2="156.00" stroke="#f04a38" stroke-width="1.1"/>
<line x1="631.60" y1="156.85" x2="758.90" y2="156.85" stroke="#b89858" stroke-width="0.6"/>
<path d="M632.20,152.00 L624.90,156.30 L632.20,160.60 Z" fill="#000"/>
<path d="M761.00,163.95 Q755.80,167.85 761.00,171.75" fill="none" stroke="#555" stroke-width="1.2"/>
<text x="754.30" y="163.55" font-size="6.88" fill="#262626" text-anchor="end">2</text>
<text x="766.80" y="170.05" font-size="6.88" fill="#262626" text-anchor="start">87F</text>
<line x1="631.60" y1="167.55" x2="758.90" y2="167.55" stroke="#f03030" stroke-width="1.1"/>
<line x1="631.60" y1="168.40" x2="758.90" y2="168.40" stroke="#b83030" stroke-width="0.6"/>
<path d="M632.20,163.55 L624.90,167.85 L632.20,172.15 Z" fill="#000"/>
<path d="M761.00,175.50 Q755.80,179.40 761.00,183.30" fill="none" stroke="#555" stroke-width="1.2"/>
<text x="754.30" y="176.10" font-size="6.88" fill="#262626" text-anchor="end">3</text>
<path d="M761.00,187.05 Q755.80,190.95 761.00,194.85" fill="none" stroke="#555" stroke-width="1.2"/>
<text x="754.30" y="186.65" font-size="6.88" fill="#262626" text-anchor="end">4</text>
<text x="731.30" y="186.65" font-size="6.88" fill="#262626" text-anchor="end">RED/BLU</text>
<text x="766.80" y="193.15" font-size="6.88" fill="#262626" text-anchor="start">30G</text>
<line x1="631.60" y1="190.55" x2="758.90" y2="190.55" stroke="#ff2c3c" stroke-width="0.9"/>
<line x1="631.60" y1="191.40" x2="758.90" y2="191.40" stroke="#7048d0" stroke-width="0.8"/>
<path d="M632.20,186.65 L624.90,190.95 L632.20,195.25 Z" fill="#000"/>
<path d="M761.00,198.60 Q755.80,202.50 761.00,206.40" fill="none" stroke="#555" stroke-width="1.2"/>
<text x="754.30" y="198.20" font-size="6.88" fill="#262626" text-anchor="end">5</text>
<text x="731.30" y="198.20" font-size="6.88" fill="#262626" text-anchor="end">PNK/WHT</text>
<text x="766.80" y="204.70" font-size="6.88" fill="#262626" text-anchor="start">87F</text>
<line x1="631.60" y1="202.50" x2="758.90" y2="202.50" stroke="#ff7090" stroke-width="1.2"/>
<path d="M632.20,198.20 L624.90,202.50 L632.20,206.80 Z" fill="#000"/>
<text x="672.40" y="164.25" font-size="6.88" fill="#262626" text-anchor="end">RED/BLK</text>
<text x="731.30" y="165.65" font-size="6.88" fill="#262626" text-anchor="end">(OR RED/GRN)</text>
<path d="M624.40,151.20 C621.40,152.20 621.80,154.20 621.80,155.70 L621.80,158.68 C621.80,160.38 620.40,161.47 618.60,161.88 C620.40,162.28 621.80,163.38 621.80,165.07 L621.80,168.05 C621.80,169.55 621.40,171.55 624.40,172.55" fill="none" stroke="#333" stroke-width="0.8"/>
<text x="614.60" y="164.88" font-size="6.92" fill="#4472c4" text-anchor="end">TRANSMISSIONS SYSTEM</text>
<text x="622.40" y="192.95" font-size="6.92" fill="#4472c4" text-anchor="end">CRUISE CONTROL SYSTEM</text>
<text x="622.40" y="204.90" font-size="6.92" fill="#4472c4" text-anchor="end">ENGINE CONTROLS SYSTEM</text>
<text x="754.30" y="211.20" font-size="6.88" fill="#262626" text-anchor="end">C9G</text>
<line x1="739.60" y1="212.90" x2="754.30" y2="212.90" stroke="#666" stroke-width="1.1"/>
<path d="M761.00,221.80 Q755.80,225.70 761.00,229.60" fill="none" stroke="#555" stroke-width="1.2"/>
<text x="754.30" y="221.80" font-size="6.88" fill="#262626" text-anchor="end">1</text>
<text x="731.30" y="221.80" font-size="6.88" fill="#262626" text-anchor="end">RED/BRN</text>
<text x="766.80" y="226.70" font-size="6.88" fill="#262626" text-anchor="start">30G</text>
<line x1="631.60" y1="225.45" x2="758.90" y2="225.45" stroke="#ff2222" stroke-width="1.05"/>
<line x1="631.60" y1="226.22" x2="758.90" y2="226.22" stroke="#c88848" stroke-width="0.5"/>
<path d="M632.20,221.40 L624.90,225.70 L632.20,230.00 Z" fill="#000"/>
<path d="M761.00,233.32 Q755.80,237.22 761.00,241.12" fill="none" stroke="#555" stroke-width="1.2"/>
<text x="754.30" y="232.92" font-size="6.88" fill="#262626" text-anchor="end">2</text>
<text x="731.30" y="232.92" font-size="6.88" fill="#262626" text-anchor="end">RED/GRN</text>
<line x1="631.60" y1="236.92" x2="758.90" y2="236.92" stroke="#f04a38" stroke-width="1.1"/>
<line x1="631.60" y1="237.77" x2="758.90" y2="237.77" stroke="#b89858" stroke-width="0.6"/>
<path d="M632.20,232.92 L624.90,237.22 L632.20,241.52 Z" fill="#000"/>
<path d="M761.00,245.05 Q755.80,248.95 761.00,252.85" fill="none" stroke="#555" stroke-width="1.2"/>
<text x="754.30" y="245.35" font-size="6.88" fill="#262626" text-anchor="end">3</text>
<text x="731.30" y="245.35" font-size="6.88" fill="#262626" text-anchor="end">RED/BLU</text>
<text x="766.80" y="250.95" font-size="6.88" fill="#262626" text-anchor="start">30G</text>
<line x1="631.60" y1="248.55" x2="758.90" y2="248.55" stroke="#ff2c3c" stroke-width="0.9"/>
<line x1="631.60" y1="249.40" x2="758.90" y2="249.40" stroke="#7048d0" stroke-width="0.8"/>
<path d="M632.20,244.65 L624.90,248.95 L632.20,253.25 Z" fill="#000"/>
<path d="M761.00,256.85 Q755.80,260.75 761.00,264.65" fill="none" stroke="#555" stroke-width="1.2"/>
<text x="754.30" y="256.90" font-size="6.88" fill="#262626" text-anchor="end">4</text>
<text x="731.30" y="256.90" font-size="6.88" fill="#262626" text-anchor="end">RED/VIO</text>
<text x="766.80" y="262.50" font-size="6.88" fill="#262626" text-anchor="start">30G</text>
<line x1="631.60" y1="260.47" x2="758.90" y2="260.47" stroke="#ff2024" stroke-width="1.05"/>
<line x1="631.60" y1="261.27" x2="758.90" y2="261.27" stroke="#ff58f0" stroke-width="0.55"/>
<path d="M632.20,256.45 L624.90,260.75 L632.20,265.05 Z" fill="#000"/>
<path d="M761.00,268.05 Q755.80,271.95 761.00,275.85" fill="none" stroke="#555" stroke-width="1.2"/>
<text x="754.30" y="268.55" font-size="6.88" fill="#262626" text-anchor="end">5</text>
<text x="731.30" y="268.55" font-size="6.88" fill="#262626" text-anchor="end">RED/GRN</text>
<text x="766.80" y="273.75" font-size="6.88" fill="#262626" text-anchor="start">30G</text>
<line x1="631.60" y1="271.65" x2="758.90" y2="271.65" stroke="#f04a38" stroke-width="1.1"/>
<line x1="631.60" y1="272.50" x2="758.90" y2="272.50" stroke="#b89858" stroke-width="0.6"/>
<path d="M632.20,267.65 L624.90,271.95 L632.20,276.25 Z" fill="#000"/>
<path d="M761.00,279.90 Q755.80,283.80 761.00,287.70" fill="none" stroke="#555" stroke-width="1.2"/>
<text x="754.30" y="279.90" font-size="6.88" fill="#262626" text-anchor="end">6</text>
<text x="731.30" y="279.90" font-size="6.88" fill="#262626" text-anchor="end">BLU/RED</text>
<text x="766.80" y="285.10" font-size="6.88" fill="#262626" text-anchor="start">30G</text>
<line x1="631.60" y1="283.57" x2="758.90" y2="283.57" stroke="#1414ff" stroke-width="1.15"/>
<line x1="631.60" y1="284.38" x2="758.90" y2="284.38" stroke="#ffb4a8" stroke-width="0.45"/>
<path d="M632.20,279.50 L624.90,283.80 L632.20,288.10 Z" fill="#000"/>
<text x="622.60" y="228.10" font-size="6.92" fill="#4472c4" text-anchor="end">SUPPLEMENTAL RESTRAINTS SYSTEM</text>
<text x="622.60" y="239.62" font-size="6.92" fill="#4472c4" text-anchor="end">POWER DISTRIBUTION SYSTEM</text>
<text x="622.60" y="251.15" font-size="6.92" fill="#4472c4" text-anchor="end">ELECTRONIC POWER STEERING SYSTEM</text>
<text x="622.60" y="261.90" font-size="6.92" fill="#4472c4" text-anchor="end">AIR CONDITIONING SYSTEM</text>
<text x="622.60" y="274.95" font-size="6.92" fill="#4472c4" text-anchor="end">POWER WINDOWS &amp; INSTRUMENT CLUSTER SYSTEMS</text>
<text x="622.60" y="287.30" font-size="6.92" fill="#4472c4" text-anchor="end">SOUND &amp; NAVIGATION SYSTEMS</text>
<line x1="761.60" y1="286.60" x2="761.60" y2="305.40" stroke="#555" stroke-width="0.9" stroke-dasharray="7.2 4.4"/>
<path d="M761.00,314.30 Q755.80,318.20 761.00,322.10" fill="none" stroke="#555" stroke-width="1.2"/>
<text x="754.30" y="313.90" font-size="6.88" fill="#262626" text-anchor="end">7</text>
<path d="M761.00,325.92 Q755.80,329.82 761.00,333.72" fill="none" stroke="#555" stroke-width="1.2"/>
<text x="754.30" y="325.52" font-size="6.88" fill="#262626" text-anchor="end">8</text>
<path d="M761.00,337.54 Q755.80,341.44 761.00,345.34" fill="none" stroke="#555" stroke-width="1.2"/>
<text x="754.30" y="338.14" font-size="6.88" fill="#262626" text-anchor="end">9</text>
<path d="M761.00,349.50 Q755.80,353.40 761.00,357.30" fill="none" stroke="#555" stroke-width="1.2"/>
<text x="754.30" y="349.10" font-size="6.88" fill="#262626" text-anchor="end">10</text>
<text x="731.30" y="349.10" font-size="6.88" fill="#262626" text-anchor="end">RED</text>
<text x="766.80" y="355.60" font-size="6.88" fill="#262626" text-anchor="start">30Z</text>
<line x1="631.60" y1="353.40" x2="758.90" y2="353.40" stroke="#ff2222" stroke-width="1.5"/>
<path d="M632.20,349.10 L624.90,353.40 L632.20,357.70 Z" fill="#000"/>
<path d="M761.00,360.78 Q755.80,364.68 761.00,368.58" fill="none" stroke="#555" stroke-width="1.2"/>
<text x="754.30" y="361.38" font-size="6.88" fill="#262626" text-anchor="end">11</text>
<path d="M761.00,372.40 Q755.80,376.30 761.00,380.20" fill="none" stroke="#555" stroke-width="1.2"/>
<text x="754.30" y="372.00" font-size="6.88" fill="#262626" text-anchor="end">12</text>
<text x="731.30" y="372.00" font-size="6.88" fill="#262626" text-anchor="end">RED/BLK</text>
<text x="766.80" y="377.50" font-size="6.88" fill="#262626" text-anchor="start">12V</text>
<line x1="631.60" y1="376.30" x2="758.90" y2="376.30" stroke="#f83434" stroke-width="1.5"/>
<path d="M632.20,372.00 L624.90,376.30 L632.20,380.60 Z" fill="#000"/>
<path d="M761.00,384.02 Q755.80,387.92 761.00,391.82" fill="none" stroke="#555" stroke-width="1.2"/>
<text x="754.30" y="383.62" font-size="6.88" fill="#262626" text-anchor="end">13</text>
<text x="731.30" y="383.62" font-size="6.88" fill="#262626" text-anchor="end">BRN/BLK</text>
<text x="766.80" y="389.12" font-size="6.88" fill="#262626" text-anchor="start">GND</text>
<line x1="631.60" y1="387.92" x2="758.90" y2="387.92" stroke="#8b6914" stroke-width="1.5"/>
<path d="M632.20,383.62 L624.90,387.92 L632.20,392.22 Z" fill="#000"/>
<path d="M761.00,395.64 Q755.80,399.54 761.00,403.44" fill="none" stroke="#555" stroke-width="1.2"/>
<text x="754.30" y="395.24" font-size="6.88" fill="#262626" text-anchor="end">14</text>
<text x="731.30" y="395.24" font-size="6.88" fill="#262626" text-anchor="end">BLU/BLK</text>
<text x="766.80" y="400.74" font-size="6.88" fill="#262626" text-anchor="start">NTC</text>
<line x1="631.60" y1="399.54" x2="758.90" y2="399.54" stroke="#4444f4" stroke-width="1.8"/>
<path d="M632.20,395.24 L624.90,399.54 L632.20,403.84 Z" fill="#000"/>
<text x="623.40" y="356.50" font-size="6.92" fill="#4472c4" text-anchor="end">POWER DISTRIBUTION SYSTEM</text>
<path d="M625.60,369.30 C622.60,370.30 623.00,372.30 623.00,373.80 L623.00,383.62 C623.00,385.32 621.60,386.42 619.80,386.82 C621.60,387.22 623.00,388.32 623.00,390.02 L623.00,399.84 C623.00,401.34 622.60,403.34 625.60,404.34" fill="none" stroke="#333" stroke-width="0.8"/>
<text x="618.60" y="388.92" font-size="6.92" fill="#4472c4" text-anchor="end">AIR CONDITIONING SYSTEM</text>
<text x="754.30" y="407.20" font-size="6.88" fill="#3d6fb6" text-anchor="end">C5C</text>
<line x1="741.00" y1="408.80" x2="754.30" y2="408.80" stroke="#7fa3d6" stroke-width="1.1"/>
<path d="M761.00,418.40 Q755.80,422.30 761.00,426.20" fill="none" stroke="#555" stroke-width="1.2"/>
<text x="754.30" y="418.00" font-size="6.88" fill="#262626" text-anchor="end">1</text>
<text x="731.30" y="418.00" font-size="6.88" fill="#262626" text-anchor="end">RED/BLU</text>
<text x="766.80" y="423.50" font-size="6.88" fill="#262626" text-anchor="start">30</text>
<line x1="631.60" y1="421.90" x2="758.90" y2="421.90" stroke="#ff2c3c" stroke-width="0.9"/>
<line x1="631.60" y1="422.75" x2="758.90" y2="422.75" stroke="#7048d0" stroke-width="0.8"/>
<path d="M632.20,418.00 L624.90,422.30 L632.20,426.60 Z" fill="#000"/>
<path d="M761.00,429.98 Q755.80,433.88 761.00,437.78" fill="none" stroke="#555" stroke-width="1.2"/>
<text x="754.30" y="429.58" font-size="6.88" fill="#262626" text-anchor="end">2</text>
<text x="731.30" y="429.58" font-size="6.88" fill="#262626" text-anchor="end">BRN</text>
<text x="766.80" y="436.08" font-size="6.88" fill="#262626" text-anchor="start">31</text>
<line x1="631.60" y1="433.88" x2="758.90" y2="433.88" stroke="#8b6914" stroke-width="1.5"/>
<path d="M632.20,429.58 L624.90,433.88 L632.20,438.18 Z" fill="#000"/>
<path d="M761.00,441.56 Q755.80,445.46 761.00,449.36" fill="none" stroke="#555" stroke-width="1.2"/>
<text x="754.30" y="441.96" font-size="6.88" fill="#262626" text-anchor="end">3</text>
<text x="731.30" y="441.96" font-size="6.88" fill="#262626" text-anchor="end">RED/BLK</text>
<text x="766.80" y="446.86" font-size="6.88" fill="#262626" text-anchor="start">12V</text>
<line x1="631.60" y1="445.46" x2="758.90" y2="445.46" stroke="#f83434" stroke-width="1.5"/>
<path d="M632.20,441.16 L624.90,445.46 L632.20,449.76 Z" fill="#000"/>
<path d="M761.00,453.14 Q755.80,457.04 761.00,460.94" fill="none" stroke="#555" stroke-width="1.2"/>
<text x="754.30" y="452.74" font-size="6.88" fill="#262626" text-anchor="end">4</text>
<text x="731.30" y="452.74" font-size="6.88" fill="#262626" text-anchor="end">BRN</text>
<text x="766.80" y="459.24" font-size="6.88" fill="#262626" text-anchor="start">31</text>
<line x1="631.60" y1="457.04" x2="758.90" y2="457.04" stroke="#8b6914" stroke-width="1.5"/>
<path d="M632.20,452.74 L624.90,457.04 L632.20,461.34 Z" fill="#000"/>
<path d="M761.00,464.72 Q755.80,468.62 761.00,472.52" fill="none" stroke="#555" stroke-width="1.2"/>
<text x="754.30" y="465.32" font-size="6.88" fill="#262626" text-anchor="end">5</text>
<text x="731.30" y="465.32" font-size="6.88" fill="#262626" text-anchor="end">RED/BRN</text>
<text x="766.80" y="470.02" font-size="6.88" fill="#262626" text-anchor="start">NTC</text>
<line x1="631.60" y1="468.37" x2="758.90" y2="468.37" stroke="#ff2222" stroke-width="1.05"/>
<line x1="631.60" y1="469.15" x2="758.90" y2="469.15" stroke="#c88848" stroke-width="0.5"/>
<path d="M632.20,464.32 L624.90,468.62 L632.20,472.92 Z" fill="#000"/>
<path d="M761.00,476.30 Q755.80,480.20 761.00,484.10" fill="none" stroke="#555" stroke-width="1.2"/>
<text x="754.30" y="475.90" font-size="6.88" fill="#262626" text-anchor="end">6</text>
<text x="731.30" y="475.90" font-size="6.88" fill="#262626" text-anchor="end">BLK/GRY</text>
<text x="766.80" y="482.40" font-size="6.88" fill="#262626" text-anchor="start">LIN 2</text>
<line x1="631.60" y1="480.20" x2="758.90" y2="480.20" stroke="#909090" stroke-width="1.7"/>
<path d="M632.20,475.90 L624.90,480.20 L632.20,484.50 Z" fill="#000"/>
<path d="M761.00,487.88 Q755.80,491.78 761.00,495.68" fill="none" stroke="#555" stroke-width="1.2"/>
<text x="754.30" y="488.28" font-size="6.88" fill="#262626" text-anchor="end">7</text>
<text x="731.30" y="488.28" font-size="6.88" fill="#262626" text-anchor="end">BRN/BLK</text>
<text x="766.80" y="492.98" font-size="6.88" fill="#262626" text-anchor="start">GND</text>
<line x1="631.60" y1="491.78" x2="758.90" y2="491.78" stroke="#8b6914" stroke-width="1.5"/>
<path d="M632.20,487.48 L624.90,491.78 L632.20,496.08 Z" fill="#000"/>
<path d="M761.00,499.46 Q755.80,503.36 761.00,507.26" fill="none" stroke="#555" stroke-width="1.2"/>
<text x="754.30" y="500.06" font-size="6.88" fill="#262626" text-anchor="end">8</text>
<text x="731.30" y="500.06" font-size="6.88" fill="#262626" text-anchor="end">GRY/BLU</text>
<text x="766.80" y="504.56" font-size="6.88" fill="#262626" text-anchor="start">58D</text>
<line x1="631.60" y1="503.36" x2="758.90" y2="503.36" stroke="#b4b4ee" stroke-width="1.9"/>
<path d="M632.20,499.06 L624.90,503.36 L632.20,507.66 Z" fill="#000"/>
<path d="M761.00,511.04 Q755.80,514.94 761.00,518.84" fill="none" stroke="#555" stroke-width="1.2"/>
<text x="754.30" y="510.64" font-size="6.88" fill="#262626" text-anchor="end">9</text>
<text x="731.30" y="510.64" font-size="6.88" fill="#262626" text-anchor="end">RED/BLU</text>
<text x="766.80" y="517.14" font-size="6.88" fill="#262626" text-anchor="start">30</text>
<line x1="631.60" y1="514.54" x2="758.90" y2="514.54" stroke="#ff2c3c" stroke-width="0.9"/>
<line x1="631.60" y1="515.39" x2="758.90" y2="515.39" stroke="#7048d0" stroke-width="0.8"/>
<path d="M632.20,510.64 L624.90,514.94 L632.20,519.24 Z" fill="#000"/>
<path d="M761.00,522.62 Q755.80,526.52 761.00,530.42" fill="none" stroke="#555" stroke-width="1.2"/>
<text x="754.30" y="523.02" font-size="6.88" fill="#262626" text-anchor="end">10</text>
<text x="731.30" y="523.02" font-size="6.88" fill="#262626" text-anchor="end">RED/GRN</text>
<text x="766.80" y="527.92" font-size="6.88" fill="#262626" text-anchor="start">SIG</text>
<line x1="631.60" y1="526.22" x2="758.90" y2="526.22" stroke="#f04a38" stroke-width="1.1"/>
<line x1="631.60" y1="527.07" x2="758.90" y2="527.07" stroke="#b89858" stroke-width="0.6"/>
<path d="M632.20,522.22 L624.90,526.52 L632.20,530.82 Z" fill="#000"/>
<text x="622.80" y="425.80" font-size="6.92" fill="#4472c4" text-anchor="end">INSTRUMENT CLUSTER &amp; POWER TOPS SYSTEMS</text>
<text x="622.80" y="435.78" font-size="6.92" fill="#4472c4" text-anchor="end">INSTRUMENT CLUSTER SYSTEM</text>
<text x="622.80" y="448.16" font-size="6.92" fill="#4472c4" text-anchor="end">AIR CONDITIONING SYSTEM</text>
<text x="622.80" y="459.74" font-size="6.92" fill="#4472c4" text-anchor="end">INSTRUMENT CLUSTER &amp; POWER TOPS SYSTEMS</text>
<text x="622.80" y="472.32" font-size="6.92" fill="#4472c4" text-anchor="end">AIR CONDITIONING SYSTEM</text>
<text x="622.80" y="482.10" font-size="6.92" fill="#4472c4" text-anchor="end">INSTRUMENT CLUSTER SYSTEM</text>
<text x="622.80" y="495.28" font-size="6.92" fill="#4472c4" text-anchor="end">AIR CONDITIONING SYSTEM</text>
<path d="M625.60,496.66 C622.60,497.66 623.00,499.66 623.00,501.16 L623.00,511.49 C623.00,513.19 621.60,514.29 619.80,514.69 C621.60,515.09 623.00,516.19 623.00,517.89 L623.00,528.22 C623.00,529.72 622.60,531.72 625.60,532.72" fill="none" stroke="#333" stroke-width="0.8"/>
<text x="617.20" y="516.84" font-size="6.92" fill="#4472c4" text-anchor="end">INSTRUMENT CLUSTER SYSTEM</text>
<text x="754.30" y="534.40" font-size="6.88" fill="#262626" text-anchor="end">C13D</text>
<line x1="737.00" y1="536.20" x2="754.30" y2="536.20" stroke="#666" stroke-width="1.1"/>
<path d="M761.00,568.80 Q755.80,572.70 761.00,576.60" fill="none" stroke="#555" stroke-width="1.2"/>
<text x="754.30" y="569.20" font-size="6.88" fill="#262626" text-anchor="end">1</text>
<text x="731.30" y="569.20" font-size="6.88" fill="#262626" text-anchor="end">GRY/BLU</text>
<text x="766.80" y="574.10" font-size="6.88" fill="#262626" text-anchor="start">ANST</text>
<line x1="585.00" y1="572.70" x2="758.90" y2="572.70" stroke="#9090e0" stroke-width="1.4"/>
<path d="M585.60,568.40 L578.30,572.70 L585.60,577.00 Z" fill="#000"/>
<path d="M761.00,580.40 Q755.80,584.30 761.00,588.20" fill="none" stroke="#555" stroke-width="1.2"/>
<text x="754.30" y="580.80" font-size="6.88" fill="#262626" text-anchor="end">2</text>
<text x="731.30" y="580.80" font-size="6.88" fill="#262626" text-anchor="end">BRN/ORG</text>
<text x="766.80" y="585.70" font-size="6.88" fill="#262626" text-anchor="start">ANST</text>
<line x1="585.00" y1="584.00" x2="758.90" y2="584.00" stroke="#b08424" stroke-width="1.2"/>
<line x1="585.00" y1="584.90" x2="758.90" y2="584.90" stroke="#e0a040" stroke-width="0.6"/>
<path d="M585.60,580.00 L578.30,584.30 L585.60,588.60 Z" fill="#000"/>
<path d="M761.00,592.00 Q755.80,595.90 761.00,599.80" fill="none" stroke="#555" stroke-width="1.2"/>
<text x="754.30" y="591.60" font-size="6.88" fill="#262626" text-anchor="end">3</text>
<text x="731.30" y="591.60" font-size="6.88" fill="#262626" text-anchor="end">PNK/RED</text>
<text x="766.80" y="598.10" font-size="6.88" fill="#262626" text-anchor="start">15</text>
<line x1="585.00" y1="595.90" x2="758.90" y2="595.90" stroke="#ff6482" stroke-width="1.8"/>
<path d="M585.60,591.60 L578.30,595.90 L585.60,600.20 Z" fill="#000"/>
<text x="576.60" y="574.20" font-size="6.92" fill="#4472c4" text-anchor="end">ENGINE CONTROLS SYSTEM</text>
<text x="576.60" y="585.80" font-size="6.92" fill="#4472c4" text-anchor="end">ENGINE CONTROLS SYSTEM</text>
<text x="576.60" y="598.40" font-size="6.92" fill="#4472c4" text-anchor="end">ENGINE CONTROLS SYSTEM</text>
<path d="M761.00,603.60 Q755.80,607.50 761.00,611.40" fill="none" stroke="#555" stroke-width="1.2"/>
<text x="754.30" y="603.20" font-size="6.88" fill="#262626" text-anchor="end">4</text>
<line x1="550.30" y1="607.20" x2="758.90" y2="607.20" stroke="#ff2222" stroke-width="1.2"/>
<line x1="550.30" y1="608.10" x2="758.90" y2="608.10" stroke="#a02020" stroke-width="0.6"/>
<path d="M550.90,603.20 L543.60,607.50 L550.90,611.80 Z" fill="#000"/>
<text x="745.90" y="605.10" font-size="6.88" fill="#262626" text-anchor="end">(OR BLU/RED)</text>
<text x="684.20" y="605.10" font-size="6.88" fill="#262626" text-anchor="end">(OR BLU/BRN)</text>
<text x="624.60" y="603.50" font-size="6.88" fill="#262626" text-anchor="end">RED/BLK</text>
<text x="539.80" y="606.80" font-size="6.92" fill="#4472c4" text-anchor="end">STARTING/CHARGING &amp;</text>
<text x="541.80" y="615.70" font-size="6.92" fill="#4472c4" text-anchor="end">ENGINE CONTROLS SYSTEMS</text>
<path d="M761.00,615.20 Q755.80,619.10 761.00,623.00" fill="none" stroke="#555" stroke-width="1.2"/>
<text x="754.30" y="614.80" font-size="6.88" fill="#262626" text-anchor="end">5</text>
<path d="M761.00,626.80 Q755.80,630.70 761.00,634.60" fill="none" stroke="#555" stroke-width="1.2"/>
<text x="754.30" y="627.20" font-size="6.88" fill="#262626" text-anchor="end">6</text>
<text x="754.30" y="637.80" font-size="6.88" fill="#262626" text-anchor="end">C6I</text>
<line x1="743.60" y1="639.80" x2="754.30" y2="639.80" stroke="#666" stroke-width="1.1"/>
<text x="838.20" y="657.00" font-size="6.9" fill="#262626" text-anchor="end">FRONT SAM CONTROL</text>
<text x="838.20" y="665.75" font-size="6.9" fill="#262626" text-anchor="end">UNIT W/ FUSE</text>
<text x="840.20" y="674.50" font-size="6.9" fill="#262626" text-anchor="end">&amp; RELAY MODULE</text>
<text x="838.20" y="683.25" font-size="6.9" fill="#262626" text-anchor="end">(LEFT REAR OF</text>
<text x="840.20" y="692.00" font-size="6.9" fill="#262626" text-anchor="end">ENGINE COMPT)</text>
</g></svg></body></html>
